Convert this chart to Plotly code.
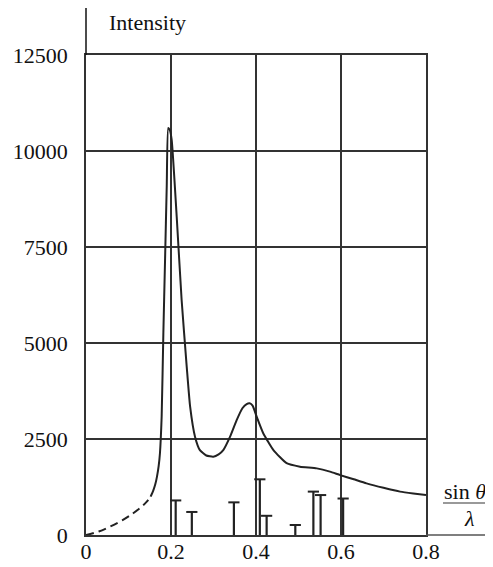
import plotly.graph_objects as go

# Dashed low-angle part of the intensity curve
dash_x = [0, 0.03, 0.056, 0.085, 0.111, 0.13, 0.143, 0.152]
dash_y = [0, 90, 216, 380, 565, 730, 867, 1000]

# Solid part of the intensity curve
curve_x = [0.152, 0.158, 0.163, 0.167, 0.171, 0.174, 0.178, 0.182, 0.186, 0.19, 0.1935,
           0.197, 0.2016, 0.2134, 0.225, 0.237, 0.245, 0.2565, 0.268, 0.283, 0.2996,
           0.312, 0.323, 0.339, 0.3545, 0.368, 0.378, 0.385, 0.392, 0.4016, 0.417,
           0.441, 0.472, 0.5035, 0.543, 0.574, 0.598, 0.63, 0.66, 0.70, 0.739, 0.77, 0.8]
curve_y = [1000, 1150, 1320, 1520, 1800, 2130, 3080, 5250, 7160, 9100, 10600,
           10550, 10290, 8290, 6120, 4380, 3340, 2560, 2210, 2070, 2040,
           2100, 2210, 2560, 2990, 3300, 3410, 3430, 3370, 3080, 2650,
           2210, 1870, 1780, 1735, 1650, 1560, 1450, 1345, 1230, 1130, 1080, 1040]

# Reflection sticks
stick_x = [0.211, 0.249, 0.348, 0.409, 0.425, 0.4925, 0.535, 0.552, 0.605]
stick_y = [900, 600, 850, 1450, 500, 260, 1130, 1040, 950]

x_ticks = [0, 0.2, 0.4, 0.6, 0.8]
x_ticktext = ["0", "0.2", "0.4", "0.6", "0.8"]
y_ticks = [0, 2500, 5000, 7500, 10000, 12500]
y_ticktext = ["0", "2500", "5000", "7500", "10000", "12500"]

INK = "#222222"
FONT = "Liberation Serif"
FS = 22

sx, sy = [], []
for x, y in zip(stick_x, stick_y):
    sx += [x, x, None]
    sy += [0, y, None]

fig = go.Figure()
fig.add_trace(go.Scatter(x=dash_x, y=dash_y, mode="lines",
                         line=dict(color=INK, width=2, dash="8px,5px", shape="spline"),
                         hoverinfo="skip"))
fig.add_trace(go.Scatter(x=curve_x, y=curve_y, mode="lines",
                         line=dict(color=INK, width=2, shape="spline", smoothing=0.5),
                         hoverinfo="skip"))
fig.add_trace(go.Scatter(x=sx, y=sy, mode="lines",
                         line=dict(color=INK, width=2.2), hoverinfo="skip"))
fig.add_trace(go.Scatter(x=stick_x, y=stick_y, mode="markers",
                         marker=dict(symbol="line-ew", size=8,
                                     line=dict(color=INK, width=2)),
                         hoverinfo="skip"))

axis_common = dict(showgrid=True, gridcolor="#333333", gridwidth=1.5,
                   showline=True, linecolor="#333333", linewidth=1.5, mirror=True,
                   zeroline=False, ticks="", automargin=False,
                   tickfont=dict(family=FONT, size=FS, color="#111111"))

fig.update_xaxes(range=[0, 0.8], tickvals=x_ticks, ticktext=x_ticktext,
                 ticklabelstandoff=-4, **axis_common)
fig.update_yaxes(range=[0, 12500], tickvals=y_ticks, ticktext=y_ticktext,
                 ticklabelstandoff=12, **axis_common)

# page body has an 8px margin: figure sized/margined so plot lands at 86..426 x 55..535
fig.update_layout(
    width=485, height=559,
    margin=dict(l=78, r=67, t=47, b=32),
    paper_bgcolor="white", plot_bgcolor="white",
    showlegend=False,
    font=dict(family=FONT, color="#111111"),
    shapes=[
        dict(type="line", xref="paper", yref="paper", x0=0, x1=0, y0=1, y1=1.098,
             line=dict(color="#111111", width=1.5)),
        dict(type="line", xref="paper", yref="paper", x0=1, x1=1.2, y0=0, y1=0,
             line=dict(color="#555555", width=1.5)),
        dict(type="line", xref="paper", yref="paper", x0=1.05, x1=1.2, y0=0.0667, y1=0.0667,
             line=dict(color="#999999", width=2)),
    ],
    annotations=[
        dict(text="Intensity", xref="paper", yref="paper", x=0.062, y=1.068,
             xanchor="left", yanchor="middle", showarrow=False,
             font=dict(family=FONT, size=FS, color="#111111")),
        dict(text="sin <i>θ</i>", xref="paper", yref="paper", x=1.115, y=0.0896,
             xanchor="center", yanchor="middle", showarrow=False,
             font=dict(family=FONT, size=FS, color="#111111")),
        dict(text="<i>λ</i>", xref="paper", yref="paper", x=1.129, y=0.0354,
             xanchor="center", yanchor="middle", showarrow=False,
             font=dict(family=FONT, size=FS, color="#111111")),
    ],
)

fig.write_html("out.html")
